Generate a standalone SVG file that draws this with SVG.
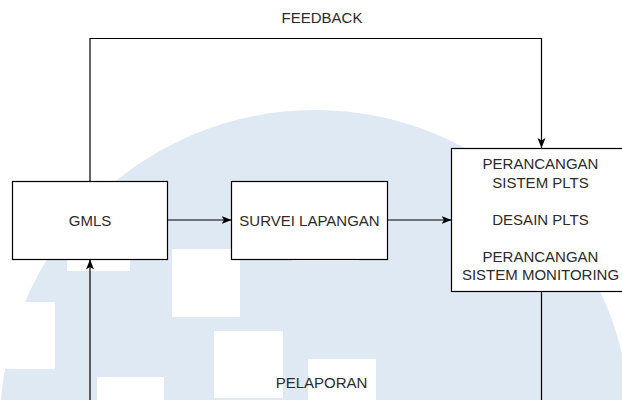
<svg xmlns="http://www.w3.org/2000/svg" width="622" height="400" viewBox="0 0 622 400">
<style>
.box{fill:#ffffff;stroke:#000000;stroke-width:1.2}
.lbl{font-family:"Liberation Sans",Arial,Helvetica,sans-serif;font-size:15px;fill:#2b2b2b;text-anchor:middle}
.edge{fill:none;stroke:#000000;stroke-width:1.2}
.wm{fill:#dfe9f4}
.wh{fill:#ffffff}
</style>
<defs>
<marker id="arr" viewBox="0 0 10 10" refX="10" refY="5" markerWidth="10" markerHeight="10" markerUnits="userSpaceOnUse" orient="auto">
<path d="M0,1 L10,5 L0,9 L2.5,5 Z" fill="#000000"/>
</marker>
</defs>
<rect width="622" height="400" fill="#ffffff"/>
<g id="watermark">
<circle class="wm" cx="315" cy="425" r="315"/>
<rect class="wh" x="0" y="302" width="55" height="67"/>
<rect class="wh" x="67" y="255" width="63" height="16"/>
<rect class="wh" x="172" y="249" width="68" height="68"/>
<rect class="wh" x="214" y="331" width="69" height="67"/>
<rect class="wh" x="97" y="377" width="67" height="23"/>
<rect class="wh" x="308" y="359" width="68" height="41"/>
<rect class="wh" x="292" y="250" width="67" height="11"/>
</g>
<g id="connectors">
<polyline class="edge" points="90,181 90,38.5 541.5,38.5 541.5,148" marker-end="url(#arr)"/>
<line class="edge" x1="167.5" y1="220" x2="231.5" y2="220" marker-end="url(#arr)"/>
<line class="edge" x1="387.5" y1="220" x2="451.5" y2="220" marker-end="url(#arr)"/>
<line class="edge" x1="90" y1="400" x2="90" y2="259.5" marker-end="url(#arr)"/>
<line class="edge" x1="541.5" y1="291.5" x2="541.5" y2="400"/>
<text class="lbl" x="322" y="23">FEEDBACK</text>
<text class="lbl" x="321.5" y="388">PELAPORAN</text>
</g>
<g id="gmls">
<rect class="box" x="12.5" y="181.5" width="155" height="78"/>
<text class="lbl" x="90" y="225.5">GMLS</text>
</g>
<g id="survei">
<rect class="box" x="231.5" y="181.5" width="156" height="78"/>
<text class="lbl" x="309.5" y="225.5">SURVEI LAPANGAN</text>
</g>
<g id="perancangan">
<rect class="box" x="451.5" y="148.5" width="181" height="143"/>
<text class="lbl" x="540.5" y="169">PERANCANGAN</text>
<text class="lbl" x="540.5" y="187.5">SISTEM PLTS</text>
<text class="lbl" x="540.5" y="225">DESAIN PLTS</text>
<text class="lbl" x="540.5" y="261.5">PERANCANGAN</text>
<text class="lbl" x="540.5" y="280">SISTEM MONITORING</text>
</g>
</svg>
